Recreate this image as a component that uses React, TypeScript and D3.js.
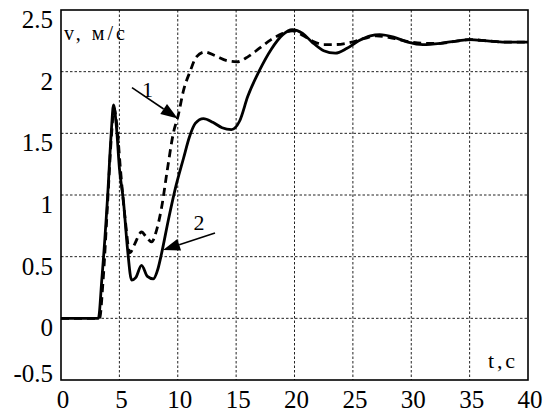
import React from "react";
import * as d3 from "d3";

// Transient speed response v(t): curve 1 (dashed) and curve 2 (solid)
const timeSolid = [0, 3.2, 3.5, 4.0, 4.3, 4.5, 4.75, 5.0, 5.35, 5.7, 6.05, 6.4, 6.9, 7.4, 7.9, 8.3, 8.6, 9.2, 9.76, 10.5, 11.0, 11.5, 12.2, 13.0, 13.8, 14.6, 15.3, 16.0, 17.0, 18.0, 19.0, 19.8, 20.7, 21.5, 22.5, 23.5, 24.5, 25.5, 26.5, 27.3, 28.5, 29.7, 31.0, 32.5, 34.0, 35.0, 36.5, 38.0, 40.0];
const speedSolid = [0, 0, 0.32, 1.0, 1.5, 1.73, 1.55, 1.22, 0.95, 0.56, 0.31, 0.33, 0.43, 0.34, 0.32, 0.4, 0.52, 0.8, 1.04, 1.3, 1.47, 1.58, 1.62, 1.59, 1.545, 1.53, 1.6, 1.8, 2.01, 2.18, 2.3, 2.34, 2.31, 2.24, 2.17, 2.15, 2.19, 2.25, 2.29, 2.3, 2.28, 2.24, 2.22, 2.23, 2.25, 2.26, 2.25, 2.24, 2.24];

const timeDashed = [0, 3.3, 3.6, 4.0, 4.3, 4.55, 4.8, 5.1, 5.5, 5.9, 6.3, 6.9, 7.3, 7.77, 8.2, 8.62, 9.1, 9.62, 10.05, 10.5, 11.05, 11.6, 12.33, 13.2, 14.2, 15.05, 16.0, 17.0, 18.0, 19.0, 19.8, 20.6, 21.5, 22.5, 23.5, 24.9, 26.0, 27.0, 28.5, 30.0, 31.0, 32.5, 34.0, 35.0, 36.5, 38.0, 40.0];
const speedDashed = [0, 0, 0.3, 0.95, 1.45, 1.7, 1.55, 1.2, 0.8, 0.53, 0.6, 0.7, 0.66, 0.62, 0.72, 0.9, 1.2, 1.5, 1.65, 1.85, 2.0, 2.12, 2.16, 2.13, 2.09, 2.08, 2.12, 2.19, 2.26, 2.31, 2.33, 2.3, 2.25, 2.22, 2.22, 2.24, 2.27, 2.29, 2.27, 2.24, 2.23, 2.23, 2.25, 2.26, 2.25, 2.24, 2.24];

const xTicks = [0, 5, 10, 15, 20, 25, 30, 35, 40];
const yTicks = [-0.5, 0, 0.5, 1, 1.5, 2, 2.5];

// Callouts: label text, label anchor, arrow tail and arrow head (data units)
const calloutLabels = ["1", "2"];
const calloutLabelPos = [[7.41, 1.795], [11.82, 0.716]];
const calloutTail = [[6.08, 1.87], [13.19, 0.692]];
const calloutHead = [[10.0, 1.62], [8.74, 0.554]];

const W = 554;
const H = 412;
const left = 61;
const right = 528;
const top = 10;
const bottom = 380;
const serif = "Liberation Serif, Times New Roman, DejaVu Serif, serif";

export default function App() {
  const x = d3.scaleLinear().domain([0, 40]).range([left, right]);
  const y = d3.scaleLinear().domain([-0.5, 2.5]).range([bottom, top]);

  const line = d3
    .line<[number, number]>()
    .x((d) => x(d[0]))
    .y((d) => y(d[1]))
    .curve(d3.curveMonotoneX);

  const solidPath = line(timeSolid.map((t, i) => [t, speedSolid[i]]) as [number, number][]) || "";
  const dashedPath = line(timeDashed.map((t, i) => [t, speedDashed[i]]) as [number, number][]) || "";

  const arrow = (i: number) => {
    const [tx, ty] = [x(calloutTail[i][0]), y(calloutTail[i][1])];
    const [hx, hy] = [x(calloutHead[i][0]), y(calloutHead[i][1])];
    const dx = hx - tx;
    const dy = hy - ty;
    const len = Math.hypot(dx, dy);
    const ux = dx / len;
    const uy = dy / len;
    const headLen = 17;
    const headHalf = 6;
    const bx = hx - ux * headLen;
    const by = hy - uy * headLen;
    const p1 = [bx - uy * headHalf, by + ux * headHalf];
    const p2 = [bx + uy * headHalf, by - ux * headHalf];
    return (
      <g key={"arrow" + i}>
        <line x1={tx} y1={ty} x2={bx} y2={by} stroke="#000" strokeWidth={1.6} />
        <polygon points={`${hx},${hy} ${p1[0]},${p1[1]} ${p2[0]},${p2[1]}`} fill="#000" />
      </g>
    );
  };

  const txt = (size: number) => ({ fontFamily: serif, fontSize: size + "px" });

  return (
    <svg width={W} height={H} style={{ display: "block", position: "absolute", left: 0, top: 0 }}>
      <rect x={0} y={0} width={W} height={H} fill="#fff" />
      <defs>
        <clipPath id="plotClip">
          <rect x={left} y={top} width={right - left} height={bottom - top} />
        </clipPath>
      </defs>
      {/* grid */}
      <g stroke="#222" strokeWidth={1} strokeDasharray="2.5,2">
        {xTicks.slice(1, -1).map((t) => (
          <line key={"gx" + t} x1={x(t)} x2={x(t)} y1={top} y2={bottom} />
        ))}
        {yTicks.slice(1, -1).map((v) => (
          <line key={"gy" + v} x1={left} x2={right} y1={y(v)} y2={y(v)} />
        ))}
      </g>
      {/* curves */}
      <g clipPath="url(#plotClip)" fill="none" stroke="#000" strokeLinejoin="round">
        <path d={solidPath} strokeWidth={2.8} />
        <path d={dashedPath} strokeWidth={2.8} strokeDasharray="8,5" />
      </g>
      {/* frame */}
      <rect x={left} y={top} width={right - left} height={bottom - top} fill="none" stroke="#000" strokeWidth={1.6} />
      {/* tick labels */}
      <g fill="#000" style={txt(25)}>
        {yTicks.map((v) => (
          <text key={"yl" + v} x={53} y={Math.min(y(v) + 18, y(-0.5) + 2)} textAnchor="end">
            {String(v)}
          </text>
        ))}
        {xTicks.map((t) => (
          <text key={"xl" + t} x={x(t) + 2} y={408} textAnchor="middle">
            {String(t)}
          </text>
        ))}
      </g>
      {/* axis titles */}
      <text x={64} y={40} style={txt(20)} textLength={61} lengthAdjust="spacing">
        v, м/с
      </text>
      <text x={488} y={368} style={txt(22)} textLength={27} lengthAdjust="spacing">
        t,c
      </text>
      {/* callouts */}
      {calloutLabels.map((lab, i) => (
        <text
          key={"cl" + i}
          x={x(calloutLabelPos[i][0])}
          y={y(calloutLabelPos[i][1])}
          style={txt(22)}
          textAnchor="middle"
        >
          {lab}
        </text>
      ))}
      {calloutLabels.map((_, i) => arrow(i))}
    </svg>
  );
}
